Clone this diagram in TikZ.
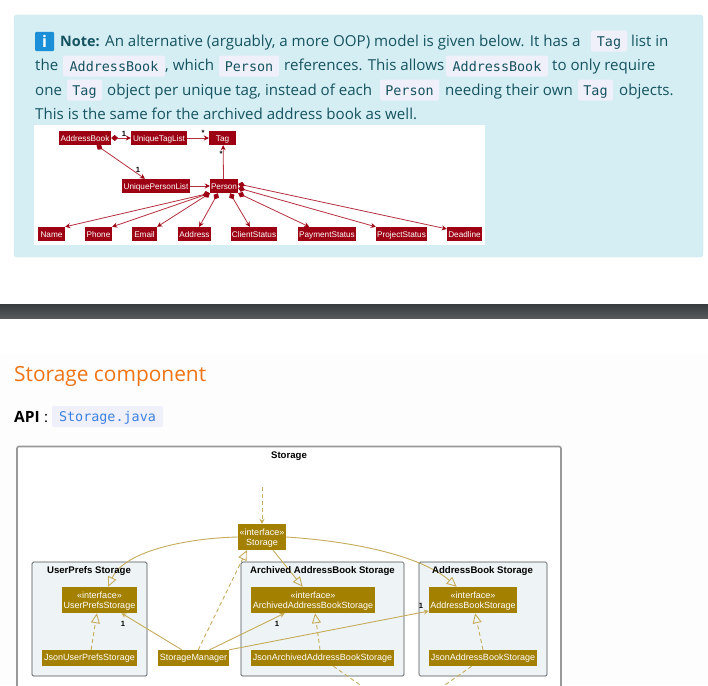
\documentclass[tikz,border=0pt]{standalone}
\usepackage{fontspec}
\setmainfont{Open Sans}
\newfontfamily\umlfont{Liberation Sans}
\newfontfamily\codefont{DejaVu Sans Mono}
\usetikzlibrary{arrows.meta}
\definecolor{notebg}{HTML}{D5EEF3}
\definecolor{noteline}{HTML}{C2E5EC}
\definecolor{noteink}{HTML}{14535F}
\definecolor{chipbg}{HTML}{F0F0FB}
\definecolor{bandtop}{HTML}{383B3E}
\definecolor{bandlow}{HTML}{575A5C}
\definecolor{headink}{HTML}{EF7414}
\definecolor{apiink}{HTML}{3B82E0}
\definecolor{iconblue}{HTML}{1B8FD8}
\definecolor{pagebg}{HTML}{FDFDFE}
\definecolor{umlred}{HTML}{9D0012}
\definecolor{redline}{HTML}{B5303F}
\definecolor{umlgold}{HTML}{A38000}
\definecolor{goldline}{HTML}{C6AC5A}
\definecolor{pkgbg}{HTML}{EEF4F6}
\definecolor{pkgline}{HTML}{4A4E51}
\tikzset{
	notetext/.style={anchor=base west, inner sep=0, text=noteink, font=\fontsize{15.1}{17}\selectfont},
	chip/.style={fill=chipbg, rounded corners=2, inner sep=0, minimum height=21, text height=12, text depth=2, text=noteink, font=\codefont\fontsize{13.4}{15}\selectfont},
	redbox/.style={fill=umlred, text=white, inner sep=0, minimum height=14, text height=6.5, text depth=0, font=\umlfont\fontsize{8.2}{9}\selectfont},
	goldbox/.style={fill=umlgold, text=white, inner sep=0, align=center, font=\umlfont\fontsize{9}{10.2}\selectfont},
	pkgbox/.style={draw=pkgline, fill=pkgbg, rounded corners=1.5, line width=0.7, inner sep=0, minimum height=114},
	pkgtitle/.style={inner sep=0, font=\umlfont\bfseries\fontsize{9.6}{11}\selectfont},
	mult/.style={inner sep=0, font=\umlfont\bfseries\fontsize{7.6}{8}\selectfont},
	redarrow/.style={draw=redline, line width=0.8, -{Stealth[length=5, width=5, umlred]}},
	redhas/.style={draw=redline, line width=0.8, {Diamond[length=7, width=6, umlred]}-{Stealth[length=5, width=5, umlred]}},
	goldarrow/.style={draw=goldline, line width=0.9, -{Stealth[length=5, width=5]}},
	goldopen/.style={draw=goldline, line width=0.9, -{Triangle[open, length=10, width=9]}},
	golddash/.style={goldopen, dash pattern=on 4 off 3},
}

\begin{document}
\begin{tikzpicture}[x=1pt, y=-1pt]
			\useasboundingbox (0, 0) rectangle (708, 685);
			%%%%% START %%%%%
			\fill[pagebg] (0, 355) rectangle (708, 685);
			\draw[noteline, fill=notebg, rounded corners=3] (14, 15) rectangle (703, 257);
			\node[fill=iconblue, rounded corners=1, minimum width=19, minimum height=19, inner sep=0, text=white, font=\bfseries\fontsize{16}{16}\selectfont] (infoicon) at (44.5, 41.5) {i};
			
			\node[notetext, font=\bfseries\fontsize{14.4}{16}\selectfont] (noteA) at (60, 46) {Note:};
			\node[notetext] (noteB) at (105, 46) {An alternative (arguably, a more OOP) model is given below. It has a};
			\node[chip, minimum width=36] (chipA) at (609, 41) {Tag};
			\node[notetext] (noteC) at (631, 46) {list in};
			
			\node[notetext] (noteD) at (35, 70.7) {the};
			\node[chip, minimum width=102] (chipB) at (114, 66) {AddressBook};
			\node[notetext] (noteE) at (165, 70.7) {, which};
			\node[chip, minimum width=60] (chipC) at (249, 66) {Person};
			\node[notetext] (noteF) at (284, 70.7) {references. This allows};
			\node[chip, minimum width=102] (chipD) at (497, 66) {AddressBook};
			\node[notetext] (noteG) at (552, 70.7) {to only require};
			
			\node[notetext] (noteH) at (35, 95) {one};
			\node[chip, minimum width=35] (chipE) at (84.5, 90) {Tag};
			\node[notetext] (noteI) at (107, 95) {object per unique tag, instead of each};
			\node[chip, minimum width=59] (chipF) at (409.5, 90) {Person};
			\node[notetext] (noteJ) at (445, 95) {needing their own};
			\node[chip, minimum width=35] (chipG) at (595.5, 90) {Tag};
			\node[notetext] (noteK) at (619, 95) {objects.};
			
			\node[notetext] (noteL) at (35, 119.5) {This is the same for the archived address book as well.};
			
			\fill[white] (34, 125) rectangle (485, 245);
			
			\node[redbox, minimum width=52] (addressbook) at (85, 138) {AddressBook};
			\node[redbox, minimum width=56] (taglist) at (159, 138) {UniqueTagList};
			\node[redbox, minimum width=27] (tag) at (222.5, 138) {Tag};
			\node[redbox, minimum width=68] (personlist) at (156, 186) {UniquePersonList};
			\node[redbox, minimum width=28] (person) at (224, 186) {Person};
			\node[redbox, minimum width=27] (name) at (51.5, 234) {Name};
			\node[redbox, minimum width=27] (phone) at (98.5, 234) {Phone};
			\node[redbox, minimum width=25] (email) at (144.5, 234) {Email};
			\node[redbox, minimum width=33] (address) at (194.5, 234) {Address};
			\node[redbox, minimum width=46] (clientstatus) at (254, 234) {ClientStatus};
			\node[redbox, minimum width=58] (paymentstatus) at (327, 234) {PaymentStatus};
			\node[redbox, minimum width=51] (projectstatus) at (401.5, 234) {ProjectStatus};
			\node[redbox, minimum width=35] (deadline) at (464.5, 234) {Deadline};
			
			\draw[redhas] (addressbook.east) -- (taglist.west);
			\draw[redarrow] (taglist.east) -- (tag.west);
			\draw[redhas] (addressbook.-32) -- (personlist.147);
			\draw[redarrow] (personlist.east) -- (person.west);
			\draw[redarrow] (person.94) -- (tag.-85);
			\draw[redhas] (person.south west) -- (name.north east);
			\draw[redhas] (person.south west) -- (phone.north east);
			\draw[redhas] (person.south west) -- (email.north east);
			\draw[redhas] (person.-130) -- (address.57);
			\draw[redhas] (person.-50) -- (clientstatus.120);
			\draw[redhas] (person.south east) -- (paymentstatus.158);
			\draw[redhas] (person.-8) -- (projectstatus.north west);
			\draw[redhas] (person.8) -- (deadline.164);
			
			\node[mult] (multA) at (124, 134) {1};
			\node[mult] (multB) at (203, 133) {*};
			\node[mult] (multC) at (138, 170) {1};
			\node[mult] (multD) at (221, 154) {*};
			
			\shade[top color=bandtop, bottom color=bandlow] (0, 304) rectangle (708, 318);
			
			\node[anchor=base west, inner sep=0, text=headink, font=\fontsize{20.9}{24}\selectfont] (heading) at (14, 381) {Storage component};
			\node[anchor=base west, inner sep=0, font=\bfseries\fontsize{15.5}{17}\selectfont] (apilabel) at (14, 422) {API};
			\node[anchor=base west, inner sep=0, font=\fontsize{15}{17}\selectfont] (apicolon) at (44, 422) {:};
			\node[chip, minimum width=111, text=apiink] (apichip) at (107.5, 416.5) {Storage.java};
			
			\draw[black!40, fill=white, line width=1.6, rounded corners=2] (17, 695) -- (17, 446.5) -- (561, 446.5) -- (561, 695);
			\node[pkgtitle] (storagetitle) at (289, 456) {Storage};
			
			\node[pkgbox, minimum width=115] (userpkg) at (89.5, 619) {};
			\node[pkgbox, minimum width=163] (archivedpkg) at (322.5, 619) {};
			\node[pkgbox, minimum width=128] (addresspkg) at (483, 619) {};
			
			\node[goldbox, minimum width=48, minimum height=26] (storage) at (262, 537) {\rule{0pt}{9pt}«interface»\\Storage};
			\node[goldbox, minimum width=75, minimum height=26] (userprefs) at (99.5, 600) {\rule{0pt}{9pt}«interface»\\UserPrefsStorage};
			\node[goldbox, minimum width=124, minimum height=26] (archived) at (313, 600) {\rule{0pt}{9pt}«interface»\\ArchivedAddressBookStorage};
			\node[goldbox, minimum width=88, minimum height=26] (addressst) at (473, 600) {\rule{0pt}{9pt}«interface»\\AddressBookStorage};
			\node[goldbox, minimum width=95, minimum height=16] (jsonuser) at (89.5, 658) {JsonUserPrefsStorage};
			\node[goldbox, minimum width=71, minimum height=16] (manager) at (193.5, 658) {StorageManager};
			\node[goldbox, minimum width=143, minimum height=16] (jsonarchived) at (322.5, 658) {JsonArchivedAddressBookStorage};
			\node[goldbox, minimum width=108, minimum height=16] (jsonaddress) at (483, 658) {JsonAddressBookStorage};
			
			\coordinate (storagetop) at (262, 487);
			\coordinate (archivedout) at (363, 687);
			\coordinate (addressout) at (442, 687);
			
			\draw[goldarrow, dash pattern=on 4 off 3] (storagetop) -- (storage.north);
			\draw[goldopen] (storage.west) .. controls (190, 538) and (125, 550) .. (userprefs.57);
			\draw[goldopen] (storage.-50) -- (archived.128);
			\draw[goldopen] (storage.east) .. controls (350, 541) and (420, 555) .. (addressst.141);
			\draw[golddash] (jsonuser.79) -- (userprefs.259);
			\draw[goldarrow] (manager.145) -- (userprefs.-31);
			\draw[golddash] (manager.60) -- (storage.221);
			\draw[goldarrow] (manager.27) -- (archived.205);
			\draw[goldarrow] (manager.north east) -- (addressst.194);
			\draw[golddash] (jsonarchived.107) -- (archived.-81);
			\draw[golddash] (jsonaddress.north) -- (addressst.-81);
			\draw[goldline, line width=0.9, dash pattern=on 4 off 3] (jsonarchived.-37) -- (archivedout);
			\draw[goldline, line width=0.9, dash pattern=on 4 off 3] (jsonaddress.-144) -- (addressout);
			
			\node[pkgtitle] (usertitle) at (89, 571.5) {UserPrefs Storage};
			\node[pkgtitle] (archivedtitle) at (322.5, 571.5) {Archived AddressBook Storage};
			\node[pkgtitle] (addresstitle) at (482.5, 571.5) {AddressBook Storage};
			
			\node[mult] (multE) at (123, 624) {1};
			\node[mult] (multF) at (277, 624) {1};
			\node[mult] (multG) at (421, 606) {1};
			%%%%% END %%%%%
		\end{tikzpicture}
\end{document}
